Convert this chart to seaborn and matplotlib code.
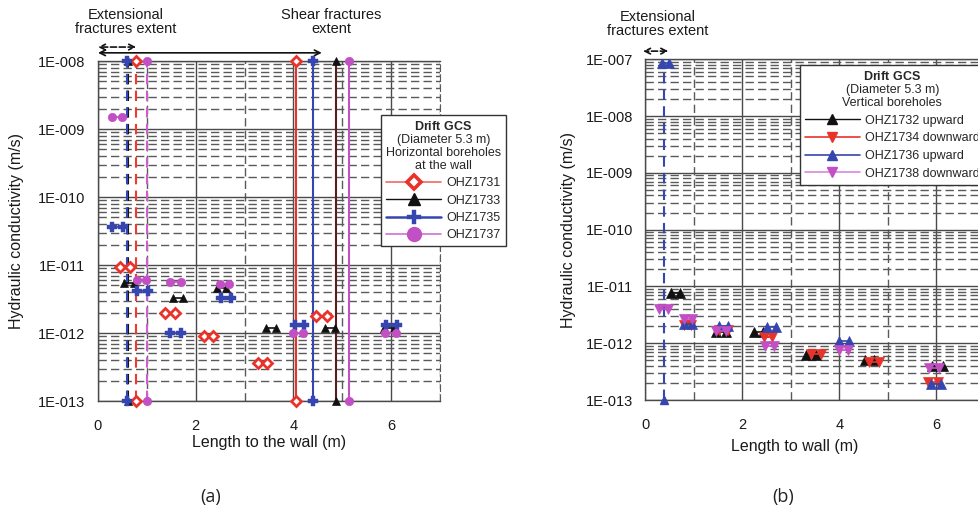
import numpy as np
import pandas as pd
import seaborn as sns
import matplotlib.pyplot as plt
from matplotlib.lines import Line2D
from matplotlib.ticker import FixedLocator, FuncFormatter, NullFormatter, LogLocator

# ---- panel (a): horizontal boreholes at the wall, interval start / end (m) and K (m/s)
a31_x0 = [0.45, 1.37, 2.17, 3.27, 4.47]
a31_x1 = [0.66, 1.57, 2.36, 3.46, 4.68]
a31_k = [9.4e-12, 2.0e-12, 8.9e-13, 3.6e-13, 1.8e-12]

a33_x0 = [0.53, 1.54, 2.43, 3.44, 4.65, 5.85]
a33_x1 = [0.73, 1.74, 2.63, 3.64, 4.85, 6.05]
a33_k = [5.4e-12, 3.3e-12, 4.6e-12, 1.2e-12, 1.2e-12, 1.2e-12]

a35_x0 = [0.28, 0.80, 1.48, 2.52, 4.03, 5.90]
a35_x1 = [0.52, 1.02, 1.70, 2.72, 4.22, 6.11]
a35_k = [3.6e-11, 4.1e-12, 1.0e-12, 3.3e-12, 1.3e-12, 1.3e-12]

a37_x0 = [0.28, 0.80, 1.47, 2.50, 3.99, 5.88]
a37_x1 = [0.49, 0.99, 1.69, 2.68, 4.20, 6.09]
a37_k = [1.5e-9, 6.0e-12, 5.6e-12, 5.2e-12, 1.0e-12, 1.0e-12]

# fracture positions drawn over the full K range (extensional = dashed, shear = solid)
a31_ext, a31_shear = 0.78, 4.05
a33_ext, a33_shear = 0.62, 4.87
a35_ext, a35_shear = 0.59, 4.40
a37_ext, a37_shear = 1.00, 5.13

# ---- panel (b): vertical boreholes
b32_x0 = [0.53, 1.46, 2.23, 3.31, 4.52, 5.92]
b32_x1 = [0.72, 1.66, 2.42, 3.51, 4.72, 6.13]
b32_k = [7.8e-12, 1.6e-12, 1.55e-12, 6.2e-13, 5.0e-13, 4.0e-13]

b34_x0 = [0.79, 1.51, 2.45, 3.42, 4.62, 5.82]
b34_x1 = [0.93, 1.70, 2.62, 3.62, 4.82, 6.03]
b34_k = [2.1e-12, 1.7e-12, 1.3e-12, 6.4e-13, 4.6e-13, 2.1e-13]

b36_x0 = [0.34, 0.79, 1.51, 2.50, 4.00, 5.89]
b36_x1 = [0.49, 0.96, 1.70, 2.69, 4.19, 6.10]
b36_k = [8.7e-8, 2.2e-12, 2.0e-12, 1.9e-12, 1.1e-12, 1.9e-13]
b36_ext = 0.38

b38_x0 = [0.27, 0.79, 1.46, 2.47, 3.99, 5.86]
b38_x1 = [0.46, 0.96, 1.66, 2.66, 4.18, 6.06]
b38_k = [4.0e-12, 2.7e-12, 1.65e-12, 8.9e-13, 7.7e-13, 3.7e-13]

RED, BLACK, BLUE, VIOLET = "#e8332b", "#111111", "#3546b0", "#c24fc4"

sns.set_style("white")
plt.rcParams["font.family"] = ["Liberation Sans", "DejaVu Sans"]
plt.rcParams["mathtext.fontset"] = "custom"
plt.rcParams["mathtext.bf"] = "Liberation Sans:bold"
plt.rcParams["mathtext.rm"] = "Liberation Sans"


def intervals(x0, x1, k):
    rows = []
    for i, (s, e, v) in enumerate(zip(x0, x1, k)):
        rows += [(i, s, v), (i, e, v)]
    return pd.DataFrame(rows, columns=["seg", "x", "K"])


def vline(ax, x, top, color, ls, mkw, bottom=1e-13, top_marker=True):
    d = pd.DataFrame({"x": [x, x], "K": [bottom, top]})
    sns.lineplot(data=d, x="x", y="K", sort=False, estimator=None, color=color,
                 ls=ls, lw=1.5, ax=ax, legend=False, clip_on=False, zorder=3)
    ys = [bottom, top] if top_marker else [bottom]
    ax.plot([x] * len(ys), ys, ls="none", clip_on=False, zorder=4, **mkw)


def style_axes(ax, ymin, ymax):
    ax.set_yscale("log")
    ax.set_xlim(0, 7)
    ax.set_ylim(ymin, ymax)
    decades = [10.0 ** e for e in range(int(np.log10(ymin)), int(np.log10(ymax)) + 1)]
    ax.yaxis.set_major_locator(FixedLocator(decades))
    ax.yaxis.set_major_formatter(FuncFormatter(lambda v, _: "1E-%03d" % round(-np.log10(v))))
    ax.yaxis.set_minor_locator(LogLocator(base=10, subs=np.arange(2, 10)))
    ax.yaxis.set_minor_formatter(NullFormatter())
    ax.xaxis.set_major_locator(FixedLocator([0, 2, 4, 6]))
    ax.xaxis.set_minor_locator(FixedLocator([1, 3, 5, 7]))
    ax.set_axisbelow(True)
    ax.grid(which="major", ls="-", color="#4a4a4a", lw=1.0)
    ax.grid(which="minor", ls=(0, (6, 3)), color="#5a5a5a", lw=1.0)
    for s in ["left", "bottom", "top"]:
        ax.spines[s].set_color("#4a4a4a")
        ax.spines[s].set_linewidth(1.0)
    ax.spines["right"].set_color("#5a5a5a")
    ax.spines["right"].set_linestyle((0, (6, 3)))
    ax.tick_params(axis="y", which="major", direction="out", length=7, width=1,
                   color="#333333", labelsize=10.5, pad=2, labelcolor="#1a1a1a")
    ax.tick_params(axis="y", which="minor", direction="inout", length=8, width=1, color="#333333")
    ax.tick_params(axis="x", which="both", direction="inout", length=6, width=1,
                   color="#333333", labelsize=10.5, pad=10, labelcolor="#1a1a1a")


fig = plt.figure(figsize=(9.79, 5.11), dpi=100)
ax_a = fig.add_axes([98 / 979, 1 - 401 / 511, 342 / 979, 340 / 511])
ax_b = fig.add_axes([645.5 / 979, 1 - 400 / 511, 339.2 / 979, 340.7 / 511])

# ---------------- panel (a)
mk31 = dict(marker="D", ms=5, mfc="white", mec=RED, mew=2.0)
mk33 = dict(marker="^", ms=6, mfc=BLACK, mec=BLACK, mew=0.5)
mk35 = dict(marker="P", ms=7, mfc=BLUE, mec=BLUE, mew=0.3)
mk37 = dict(marker="o", ms=6, mfc=VIOLET, mec=VIOLET, mew=0.5)

series_a = [
    (a31_x0, a31_x1, a31_k, RED, mk31, a31_ext, a31_shear, "#f03a30", RED),
    (a33_x0, a33_x1, a33_k, BLACK, mk33, a33_ext, a33_shear, BLACK, "#5a1c1c"),
    (a35_x0, a35_x1, a35_k, BLUE, mk35, a35_ext, a35_shear, BLUE, BLUE),
    (a37_x0, a37_x1, a37_k, VIOLET, mk37, a37_ext, a37_shear, "#cc5fcc", "#c44fc6"),
]
for x0, x1, k, c, mk, ext, shear, c_ext, c_sh in series_a:
    vline(ax_a, ext, 1e-8, c_ext, (0, (5, 3)), mk)
    vline(ax_a, shear, 1e-8, c_sh, "-", mk)
for x0, x1, k, c, mk, ext, shear, c_ext, c_sh in series_a:
    sns.lineplot(data=intervals(x0, x1, k), x="x", y="K", units="seg", estimator=None,
                 color=c, lw=1.2, ax=ax_a, legend=False, zorder=5, **mk)

style_axes(ax_a, 1e-13, 1e-8)
ax_a.set_xlabel("Length to the wall (m)", fontsize=11.5, color="#1a1a1a")
ax_a.set_ylabel("Hydraulic conductivity (m/s)", fontsize=11.5, color="#1a1a1a")
ax_a.xaxis.set_label_coords(0.5, -0.10)
ax_a.yaxis.set_label_coords(-0.215, 0.5)

tr = ax_a.get_xaxis_transform()
ax_a.annotate("", xy=(0.0, 1.041), xytext=(0.78, 1.041), xycoords=tr, textcoords=tr,
              arrowprops=dict(arrowstyle="<->", ls="--", lw=1.2, color="#111111",
                              shrinkA=0, shrinkB=0, mutation_scale=10), annotation_clip=False)
ax_a.annotate("", xy=(0.0, 1.024), xytext=(4.58, 1.024), xycoords=tr, textcoords=tr,
              arrowprops=dict(arrowstyle="<->", lw=1.2, color="#111111",
                              shrinkA=0, shrinkB=0, mutation_scale=10), annotation_clip=False)
ax_a.text(0.56, 1.115, "Extensional\nfractures extent", transform=tr, ha="center",
          va="center", fontsize=10.5, linespacing=0.95, color="#1a1a1a")
ax_a.text(4.78, 1.115, "Shear fractures\nextent", transform=tr, ha="center",
          va="center", fontsize=10.5, linespacing=0.95, color="#1a1a1a")

h_a = [
    Line2D([], [], color="#f06a62", lw=1.2, marker="D", ms=7, mfc="white", mec=RED, mew=2.6),
    Line2D([], [], color=BLACK, lw=1.0, marker="^", ms=8, mfc=BLACK, mec=BLACK),
    Line2D([], [], color=BLUE, lw=1.8, marker="P", ms=10, mfc=BLUE, mec=BLUE, mew=0.3),
    Line2D([], [], color="#cf72cf", lw=1.2, marker="o", ms=10, mfc=VIOLET, mec=VIOLET),
]
leg_a = fig.legend(h_a, ["OHZ1731", "OHZ1733", "OHZ1735", "OHZ1737"],
                   title="$\\mathbf{Drift\\ GCS}$\n(Diameter 5.3 m)\nHorizontal boreholes\nat the wall",
                   loc="upper left", bbox_to_anchor=(381 / 979, 1 - 115 / 511),
                   bbox_transform=fig.transFigure, fontsize=9, title_fontsize=9,
                   handlelength=4.4, handletextpad=0.45, labelspacing=0.42, borderpad=0.4,
                   borderaxespad=0, fancybox=False, framealpha=1, edgecolor="#333333")
leg_a.get_frame().set_linewidth(1.0)
leg_a.get_title().set_linespacing(1.12)
leg_a.get_title().set_multialignment("center")

# ---------------- panel (b)
series_b = [
    (b32_x0, b32_x1, b32_k, BLACK, dict(marker="^", ms=6.5, mfc=BLACK, mec=BLACK, mew=0.5)),
    (b34_x0, b34_x1, b34_k, RED, dict(marker="v", ms=7.5, mfc=RED, mec=RED, mew=0.5)),
    (b36_x0, b36_x1, b36_k, BLUE, dict(marker="^", ms=7.5, mfc=BLUE, mec=BLUE, mew=0.5)),
    (b38_x0, b38_x1, b38_k, VIOLET, dict(marker="v", ms=7.5, mfc=VIOLET, mec=VIOLET, mew=0.5)),
]
vline(ax_b, b36_ext, b36_k[0], BLUE, (0, (5, 3)),
      dict(marker="^", ms=6, mfc=BLUE, mec=BLUE), top_marker=False)
for x0, x1, k, c, mk in series_b:
    sns.lineplot(data=intervals(x0, x1, k), x="x", y="K", units="seg", estimator=None,
                 color=c, lw=1.2, ax=ax_b, legend=False, zorder=5, **mk)

style_axes(ax_b, 1e-13, 1e-7)
ax_b.set_xlabel("Length to wall (m)", fontsize=11.5, color="#1a1a1a")
ax_b.set_ylabel("Hydraulic conductivity (m/s)", fontsize=11.5, color="#1a1a1a")
ax_b.xaxis.set_label_coords(0.44, -0.115)
ax_b.yaxis.set_label_coords(-0.205, 0.5)

trb = ax_b.get_xaxis_transform()
ax_b.annotate("", xy=(-0.05, 1.024), xytext=(0.47, 1.024), xycoords=trb, textcoords=trb,
              arrowprops=dict(arrowstyle="<->", ls="--", lw=1.2, color="#111111",
                              shrinkA=0, shrinkB=0, mutation_scale=10), annotation_clip=False)
ax_b.text(0.26, 1.104, "Extensional\nfractures extent", transform=trb, ha="center",
          va="center", fontsize=10.5, linespacing=0.95, color="#1a1a1a")

h_b = [
    Line2D([], [], color=BLACK, lw=1.0, marker="^", ms=7, mfc=BLACK, mec=BLACK),
    Line2D([], [], color=RED, lw=1.2, marker="v", ms=7.5, mfc=RED, mec=RED),
    Line2D([], [], color=BLUE, lw=1.2, marker="^", ms=7.5, mfc=BLUE, mec=BLUE),
    Line2D([], [], color="#d98ad9", lw=1.2, marker="v", ms=7.5, mfc=VIOLET, mec=VIOLET),
]
leg_b = fig.legend(h_b, ["OHZ1732 upward", "OHZ1734 downward", "OHZ1736 upward", "OHZ1738 downward"],
                   title="$\\mathbf{Drift\\ GCS}$\n(Diameter 5.3 m)\nVertical boreholes",
                   loc="upper left", bbox_to_anchor=(800 / 979, 1 - 65 / 511),
                   bbox_transform=fig.transFigure, fontsize=9, title_fontsize=9,
                   handlelength=4.4, handletextpad=0.4, labelspacing=0.45, borderpad=0.4,
                   borderaxespad=0, fancybox=False, framealpha=1, edgecolor="#333333")
leg_b.get_frame().set_linewidth(1.0)
leg_b.get_title().set_linespacing(1.12)
leg_b.get_title().set_multialignment("center")

fig.text(211 / 979, 1 - 497 / 511, "(a)", ha="center", va="center", fontsize=13,
         family="Open Sans", color="#222222")
fig.text(783 / 979, 1 - 497 / 511, "(b)", ha="center", va="center", fontsize=13,
         family="Open Sans", color="#222222")

fig.savefig("out.png", dpi=100)
